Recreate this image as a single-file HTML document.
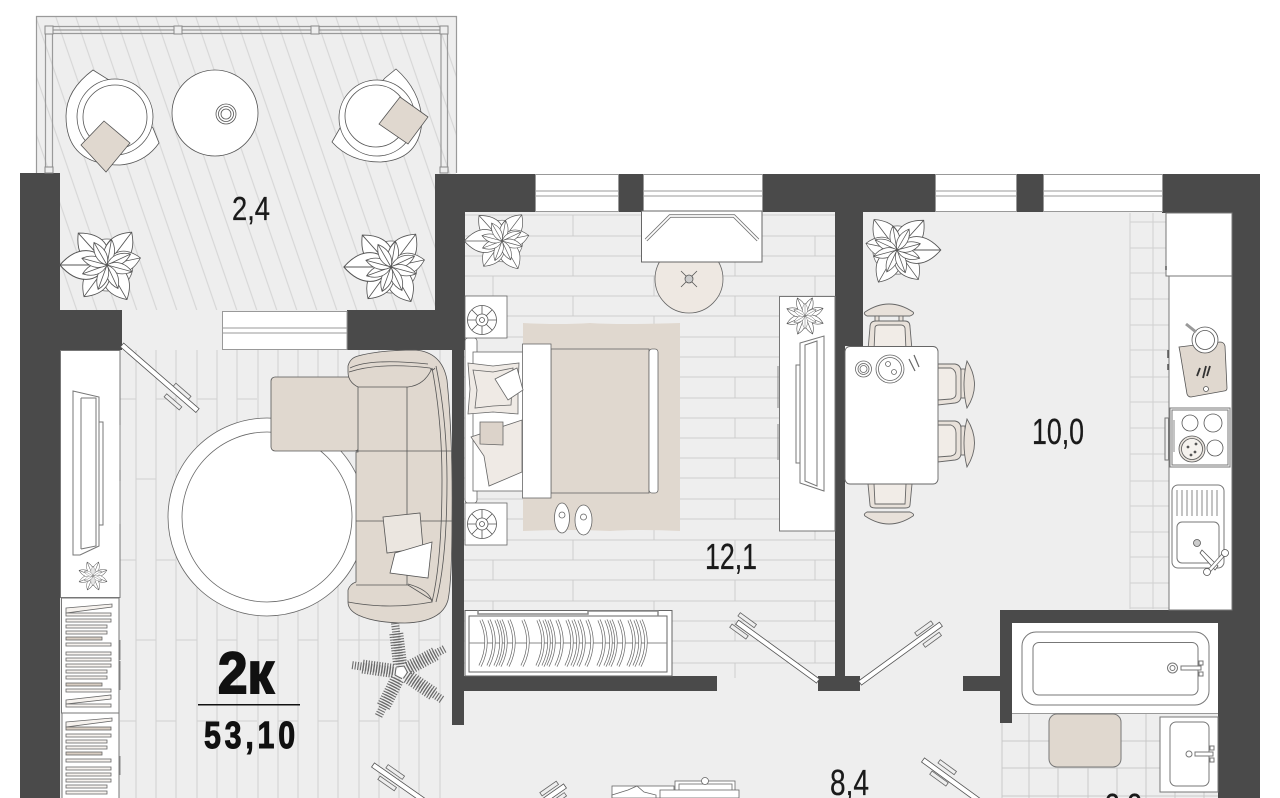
<!DOCTYPE html>
<html lang="ru"><head><meta charset="utf-8"><title>Планировка 2к</title>
<style>html,body{margin:0;padding:0;background:#fff;width:1280px;height:798px;overflow:hidden}svg{display:block;overflow:hidden}text{font-family:"Liberation Sans",sans-serif;fill:#1a1a1a}</style></head>
<body>
<svg xmlns="http://www.w3.org/2000/svg" width="1280" height="798" viewBox="0 0 1280 798">
<defs>
<pattern id="hatch" width="20" height="100" patternUnits="userSpaceOnUse" patternTransform="translate(40 0) skewX(19)"><line x1="10" y1="0" x2="10" y2="100" stroke="#d6d6d6" stroke-width="1.200"/></pattern>
<path id="leaf" d="M0 0C-15-8-16-24 0-38C16-24 15-8 0 0ZM0 0V-38" fill="#fff" stroke="#555" stroke-width=".8"/>
<path id="leaf2" d="M0 0C-7-7-7-17 0-26C7-17 7-7 0 0ZM0 0V-26" fill="#fff" stroke="#555" stroke-width=".8"/>
<g id="plant">
<circle r="26" fill="#fff" stroke="#666" stroke-width=".8"/>
<use href="#leaf" transform="rotate(-42) scale(1.13)"/><use href="#leaf" transform="rotate(37) scale(1.08)"/><use href="#leaf" transform="rotate(78) scale(.9)"/><use href="#leaf" transform="rotate(150) scale(1.05)"/><use href="#leaf" transform="rotate(216) scale(1.03)"/><use href="#leaf" transform="rotate(270) scale(1.24)"/>
<use href="#leaf2" transform="rotate(10)"/><use href="#leaf2" transform="rotate(65)"/><use href="#leaf2" transform="rotate(105)"/><use href="#leaf2" transform="rotate(155)"/><use href="#leaf2" transform="rotate(200)"/><use href="#leaf2" transform="rotate(250)"/><use href="#leaf2" transform="rotate(285)"/><use href="#leaf2" transform="rotate(330)"/>
</g>
<g id="mini" fill="#fff" stroke="#555" stroke-width=".8"><use href="#leaf2" transform="rotate(22) scale(.58)"/><use href="#leaf2" transform="rotate(67) scale(.58)"/><use href="#leaf2" transform="rotate(112) scale(.58)"/><use href="#leaf2" transform="rotate(157) scale(.58)"/><use href="#leaf2" transform="rotate(202) scale(.58)"/><use href="#leaf2" transform="rotate(247) scale(.58)"/><use href="#leaf2" transform="rotate(292) scale(.58)"/><use href="#leaf2" transform="rotate(337) scale(.58)"/><use href="#leaf2" transform="scale(.38)"/><use href="#leaf2" transform="rotate(60) scale(.38)"/><use href="#leaf2" transform="rotate(120) scale(.38)"/><use href="#leaf2" transform="rotate(180) scale(.38)"/><use href="#leaf2" transform="rotate(240) scale(.38)"/><use href="#leaf2" transform="rotate(300) scale(.38)"/></g>
<g id="door"><rect x="0" y="-2.500" width="100" height="5" fill="#fff" stroke="#555" stroke-width=".8"/></g>
<g id="handles" fill="#eee" stroke="#666" stroke-width=".8"><rect x="0" y="-9" width="20" height="4"/><rect x="0" y="5" width="20" height="4"/></g>
<g id="fan" fill="none" stroke="#555" stroke-width=".8"><circle r="14.500" fill="#fff"/><circle r="6"/><circle r="2.500"/><path d="M0-14.500V-6M0 6V14.500M-14.500 0H-6M6 0H14.500M-10-10L-4-4M4 4L10 10M10-10L4-4M-4 4L-10 10"/></g>
<g id="frond" fill="none" stroke="#6a6a6a" stroke-dasharray="1.100 1.600"><path d="M0-5V-50" stroke-width="8"/><path d="M0-8V-40" stroke-width="14"/></g>
<path id="hang" d="M481 620Q491.500 643 480 666M489 620Q499.500 643 488 666M496 620Q506.500 643 495 666M501 620Q511.500 643 500 666M509 620Q519.500 643 508 666M523 620Q533.500 643 522 666M538 620Q548.500 643 537 666M544 620Q554.500 643 543 666M549 620Q559.500 643 548 666M557 620Q567.500 643 556 666M567 620Q577.500 643 566 666M573 620Q583.500 643 572 666M579 620Q589.500 643 578 666M587 620Q597.500 643 586 666M599 620Q609.500 643 598 666M606 620Q616.500 643 605 666M611 620Q621.500 643 610 666M619 620Q629.500 643 618 666M629 620Q639.500 643 628 666M635 620Q645.500 643 634 666M641 620Q651.500 643 640 666" fill="none"/>
</defs>

<rect width="1280" height="798" fill="#fff"/>
<!-- floors -->
<rect x="37" y="17" width="419" height="293" fill="#eeeeee"/>
<rect x="37" y="17" width="419" height="293" fill="url(#hatch)"/>
<rect x="60" y="310" width="1172" height="488" fill="#eeeeee"/>
<rect x="464" y="212" width="371" height="100" fill="#eeeeee"/>
<rect x="863" y="212" width="369" height="400" fill="#eeeeee"/>

<!-- living planks -->
<path fill="none" stroke="#d0d0d0" stroke-width="1" d="M136 350V798M156 350V798M176 350V798M197 350V798M217 350V798M237 350V798M258 350V798M278 350V798M298 350V798M318 350V798M338 350V798M359 350V798M379 350V798M399 350V798M419 350V798M440 350V798
M120 399H136M156 399H176M197 399H217M237 399H257M120 560H136M156 560H176M197 560H217M237 560H257M278 560H298M136 479H156M176 479H197M217 479H237M136 640H156M176 640H197M217 640H237M258 640H278M298 640H318M338 640H359M120 721H136M156 721H176M197 721H217M237 721H257M278 721H298M318 721H338M359 721H379M399 721H419M338 399H359M359 640H379M379 640H399M419 640H440"/>
<!-- bedroom planks -->
<path fill="none" stroke="#cdcdcd" stroke-width="1" d="M464 215H835M464 236H835M464 256H835M464 276H835M464 296H835M464 316H835M464 337H835M464 357H835M464 377H835M464 398H835M464 418H835M464 438H835M464 458H835M464 478H835M464 499H835M464 519H835M464 540H835M464 560H835M464 580H835M464 601H835M464 621H835M464 641H835M464 663H835M464 678H717
M573 215V236M735 215V236M493 236V256M654 236V256M815 236V256M573 256V276M735 256V276M493 276V296M654 276V296M815 276V296M573 296V316M735 296V316M493 316V337M654 316V337M815 316V337M735 337V357M654 357V377M815 357V377M735 377V398M654 398V418M815 398V418M735 418V438M654 438V458M815 438V458M735 458V478M654 478V499M815 478V499M735 499V519M654 519V540M815 519V540M573 540V560M735 540V560M493 560V580M654 560V580M815 560V580M573 580V601M735 580V601M493 601V621M654 601V621M815 601V621M735 621V641M654 641V663M815 641V663M735 663V678"/>
<!-- kitchen tiles -->
<path fill="none" stroke="#d0d0d0" stroke-width="1" d="M1130 213V609M1153 213V609M1130 222H1169M1130 248H1169M1130 273H1169M1130 299H1169M1130 325H1169M1130 350H1169M1130 377H1169M1130 402H1169M1130 428H1169M1130 454H1169M1130 481H1169M1130 506H1169M1130 532H1169M1130 557H1169M1130 583H1169M1130 608H1169"/>
<!-- bath tiles -->
<path fill="none" stroke="#c9c9c9" stroke-width="1" d="M1002 723V798M1029 713V798M1058 768V798M1088 768V798M1117 768V798M1146 713V798M1175 792V798M1204 792V798M1002 741H1160M1002 768H1160M1002 796H1218"/>

<!-- walls -->
<g fill="#4a4a4a">
<rect x="20" y="173" width="40" height="625"/>
<rect x="20" y="310" width="102" height="40"/>
<rect x="347" y="310" width="118" height="40"/>
<rect x="435" y="174" width="30" height="176"/>
<rect x="435" y="174" width="825" height="38"/>
<rect x="1162" y="174" width="98" height="39"/>
<rect x="1232" y="174" width="28" height="624"/>
<rect x="835" y="174" width="28" height="172"/>
<rect x="835" y="340" width="10" height="350"/>
<rect x="452" y="350" width="12" height="375"/>
<rect x="452" y="676" width="265" height="15"/>
<rect x="818" y="676" width="42" height="15"/>
<rect x="963" y="676" width="40" height="15"/>
<rect x="1000" y="610" width="12" height="113"/>
<rect x="1000" y="610" width="232" height="13"/>
<rect x="1218" y="610" width="42" height="188"/>
</g>
<!-- windows -->
<g fill="#fff" stroke="#999" stroke-width="1">
<rect x="535.500" y="174.500" width="83" height="37"/><path d="M535 191H618M535 196H618"/>
<rect x="643.500" y="174.500" width="119" height="37"/><path d="M643 191H762M643 196H762"/>
<rect x="935.500" y="174.500" width="81" height="37"/><path d="M935 191H1016M935 196H1016"/>
<rect x="1043.500" y="174.500" width="119" height="37"/><path d="M1043 191H1162M1043 196H1162"/>
<rect x="222.500" y="311.500" width="124.500" height="38"/><path d="M222 328H347M222 333H347"/>
</g>
<rect x="122" y="311" width="100" height="39" fill="#eeeeee"/>

<!-- balcony railing -->
<g fill="none" stroke="#9a9a9a" stroke-width="1.200">
<path d="M36.500 173V16.500H456.500V173"/>
<path d="M45 26.500H448M45 33.500H448M45 30H448"/>
<path d="M45.500 26V173M52.500 30V173M441 30V173M447.500 26V173"/>
</g>
<g fill="#eee" stroke="#888" stroke-width="1"><rect x="45" y="26" width="8" height="8"/><rect x="174" y="26" width="8" height="8"/><rect x="311" y="26" width="8" height="8"/><rect x="440" y="26" width="8" height="8"/><rect x="45" y="167" width="8" height="6"/><rect x="440" y="167" width="8" height="6"/></g>

<!-- balcony furniture -->
<g stroke="#555" stroke-width=".8" fill="#fff">
<path d="M93 70L109 80L153 128L159 143Q145 163 120 165Q66 165 66 116Q66 90 93 70Z"/>
<circle cx="115" cy="117" r="38"/><circle cx="115" cy="117" r="32"/>
<path d="M104 121L130 143L106 172L81 145Z" fill="#e0d8cf"/>
<circle cx="215" cy="113" r="43"/><circle cx="226" cy="114" r="10"/><circle cx="226" cy="114" r="7.500"/><circle cx="226" cy="114" r="5"/>
<path d="M396 69Q420 90 422 120Q420 160 380 162Q350 162 332 142L340 128L385 78Z"/>
<circle cx="377" cy="118" r="38"/><circle cx="376" cy="116" r="31"/>
<path d="M400 97L428 117L408 144L379 124Z" fill="#e0d8cf"/>
</g>
<use href="#plant" transform="translate(107 265)"/>
<use href="#plant" transform="translate(391 267)"/>
<use href="#plant" transform="translate(502 241) scale(.8)"/>
<use href="#plant" transform="translate(897 250) scale(-.93 .93)"/>

<!-- living console -->
<g stroke="#777" stroke-width="1" fill="#fff">
<rect x="60.500" y="350.500" width="59.500" height="247"/>
<rect x="61.500" y="598" width="57.500" height="115"/>
<rect x="62" y="713" width="57" height="90"/>
<path d="M73 391L99 397V546L80 555H73ZM81 398V549M81 398H96V546L81 549" fill="#fff"/>
<rect x="99" y="422" width="4" height="103"/>
</g>
<path d="M120 425V470M120 481V524M120 640V660M120 661V690M120 756V775" stroke="#888" stroke-width="1"/>
<use href="#mini" transform="translate(93 576)"/>
<g fill="#f6f2ee" stroke="#666" stroke-width=".8">
<path d="M66 608L112 604V607L66 613Z"/>
<rect x="66" y="613" width="45" height="3"/><rect x="66" y="619" width="45" height="3"/><rect x="66" y="625" width="41" height="3"/><rect x="66" y="631" width="41" height="3"/><rect x="66" y="637" width="36" height="3" fill="#d8cdc2"/><rect x="66" y="643" width="45" height="3"/><rect x="66" y="652" width="45" height="3"/><rect x="66" y="658" width="45" height="3"/><rect x="66" y="664" width="45" height="3"/><rect x="66" y="670" width="41" height="3"/><rect x="66" y="676" width="41" height="3"/><rect x="66" y="683" width="36" height="3" fill="#d8cdc2"/><rect x="66" y="689" width="45" height="3"/>
<path d="M66 700L111 695V699L66 704Z"/><rect x="66" y="704" width="45" height="3"/>
<path d="M66 722L112 718V721L66 727Z"/>
<rect x="66" y="727" width="45" height="3" fill="#d8cdc2"/><rect x="66" y="734" width="45" height="3"/><rect x="66" y="740" width="41" height="3"/><rect x="66" y="746" width="41" height="3"/><rect x="66" y="752" width="36" height="3" fill="#d8cdc2"/><rect x="66" y="759" width="45" height="3"/><rect x="66" y="767" width="45" height="3"/><rect x="66" y="773" width="45" height="3"/><rect x="66" y="779" width="45" height="3"/><rect x="66" y="785" width="41" height="3"/><rect x="66" y="791" width="41" height="3"/>
</g>

<!-- doors -->
<use href="#door" transform="translate(122 345) rotate(41)"/>
<use href="#handles" transform="translate(170 390) rotate(41)"/>
<use href="#door" transform="translate(373 765) rotate(35)"/>
<use href="#handles" transform="translate(383 772) rotate(35)"/>
<use href="#door" transform="translate(818 681) rotate(216)"/>
<use href="#handles" transform="translate(735 620) rotate(36)"/>
<use href="#door" transform="translate(860 683) rotate(-36)"/>
<use href="#handles" transform="translate(920 640) rotate(-36)"/>
<use href="#door" transform="translate(923 760) rotate(36)"/>
<use href="#handles" transform="translate(935 767) rotate(36)"/>
<use href="#door" transform="translate(565 786) rotate(145)"/>
<use href="#handles" transform="translate(545 800) rotate(-35)"/>

<!-- rug & sofa -->
<circle cx="267" cy="517" r="99" fill="#fff" stroke="#666" stroke-width=".8"/>
<circle cx="267" cy="517" r="85" fill="#fff" stroke="#666" stroke-width=".8"/>
<g stroke="#555" stroke-width=".8">
<rect x="271" y="377" width="88" height="74" rx="4" fill="#e0d8cf"/>
<path d="M358 356Q380 350 415 350Q442 352 447 380Q453 440 452 520Q452 580 448 600Q442 622 405 623Q375 623 358 615Q348 610 348 602V590Q350 584 356 582V452H358V387Q348 382 348 372V366Q350 358 358 356Z" fill="#e0d8cf"/>
<path d="M358 387H408M356 451H452M356 521H452M407 387V585M408 387Q425 385 432 368M356 585H408L432 600M348 602Q390 610 432 602Q430 590 408 584M349 372Q380 362 430 368Q432 372 435 368" fill="none"/>
<path d="M436 366Q447 420 447 480Q447 560 436 602" fill="none"/>
<path d="M432 368Q442 420 442 480Q442 560 432 602" fill="none"/>
<path d="M350 368Q370 358 428 364" fill="none"/>
<path d="M383 517L420 513L423 548L387 553Z" fill="#ebe6e0"/>
<path d="M395 553L432 542L428 578L390 573Z" fill="#fff"/>
</g>
<!-- palm -->
<use href="#frond" transform="translate(401 672) rotate(-7)"/>
<use href="#frond" transform="translate(401 672) rotate(62)"/>
<use href="#frond" transform="translate(401 672) rotate(124)"/>
<use href="#frond" transform="translate(401 672) rotate(207)"/>
<use href="#frond" transform="translate(401 672) rotate(278)"/>
<circle cx="401" cy="672" r="5" fill="#fff"/>

<!-- desk & stool -->
<circle cx="689" cy="279" r="34" fill="#eee8e2" stroke="#666" stroke-width=".8"/>
<path d="M681 271L697 287M697 271L681 287" stroke="#555" stroke-width=".8"/><circle cx="689" cy="279" r="4" fill="#ccc" stroke="#555" stroke-width=".8"/>
<rect x="641.500" y="211" width="120.500" height="51" fill="#fff" stroke="#666" stroke-width="1"/>
<path d="M646 240L670 216H734L758 240" fill="none" stroke="#777" stroke-width="3.500"/>
<path d="M646 240L670 216H734L758 240" fill="none" stroke="#fff" stroke-width="1.800"/>

<!-- dresser -->
<g stroke="#777" stroke-width="1" fill="#fff">
<rect x="779.500" y="296.500" width="55.500" height="234.500"/>
<path d="M800 343L824 336V491L800 483ZM805 345L817 341V486L805 481Z"/>
<rect x="796" y="365" width="4" height="98"/>
</g>
<path d="M778 366V408M778 424V460" stroke="#888"/>
<use href="#mini" transform="translate(805 316) scale(1.300)"/>

<!-- bed -->
<path d="M523 323Q560 325 590 323Q620 325 680 323V531Q640 529 610 531Q570 529 523 531Z" fill="#e0d8cf"/>
<g stroke="#666" stroke-width=".8">
<rect x="465" y="338" width="12" height="165" rx="3" fill="#fff"/>
<rect x="473" y="352" width="50" height="139" fill="#fff"/>
<rect x="551" y="349" width="98" height="144" fill="#e0d8cf"/>
<rect x="649" y="349" width="9" height="144" rx="3" fill="#fff"/>
<rect x="522.500" y="344" width="28.500" height="154" fill="#fff"/>
<path d="M468 363L493 366L519 363L518 389L518 414L493 412L468 414L470 389Z" fill="#efeae5"/>
<path d="M473 370L493 372L513 368L511 405L493 406L475 408L477 390Z" fill="#efeae5"/>
<path d="M495 379L517 368L523 390L508 400Z" fill="#fff"/>
<path d="M471 437L522 420V472L489 486L484 456Z" fill="#efeae5"/>
<path d="M480 422L503 422L503 445L480 444Z" fill="#dcd3ca"/>
<rect x="465" y="296" width="42" height="42" fill="#fff"/>
<rect x="465" y="503" width="42" height="42" fill="#fff"/>
<ellipse cx="562" cy="518" rx="7.500" ry="15" fill="#fff"/>
<ellipse cx="583.500" cy="520" rx="8.500" ry="15" fill="#fff"/>
<circle cx="562" cy="515" r="3" fill="#fff"/><circle cx="583.500" cy="517" r="3" fill="#fff"/>
</g>
<use href="#fan" transform="translate(482 320)"/>
<use href="#fan" transform="translate(482 524)"/>

<!-- wardrobe -->
<g stroke="#666" stroke-width="1" fill="#fff">
<rect x="465" y="610.500" width="207" height="65.500"/>
<rect x="469" y="616" width="198" height="56"/>
<path d="M478 610V614H588V611H658V616" fill="none" stroke="#888" stroke-width="1.500"/>
<path d="M469 643H667" stroke="#888" fill="none"/>
</g>
<use href="#hang" stroke="#666" stroke-width="3.200"/>
<use href="#hang" stroke="#fff" stroke-width="1.800"/>

<!-- dining -->
<g stroke="#666" stroke-width=".9" fill="#e8e1da">
<path d="M865 312Q889 296 913 312Q915 314 910 316H867Q863 314 865 312Z"/>
<rect x="875" y="316" width="4" height="5"/><rect x="899" y="316" width="4" height="5"/>
<path d="M868 350L870 327Q870 321 876 321H905Q910 321 910 327L912 350Z"/>
<path d="M874 350L875 328Q875 325 879 325H901Q904 325 905 328L906 350" fill="#f1ece7"/>
<path d="M865 516Q889 532 913 516Q915 514 910 512H867Q863 514 865 516Z"/>
<path d="M868 484L870 505Q870 508 876 508H905Q910 508 910 505L912 484Z"/>
<path d="M874 484L875 504H905L906 484" fill="#f1ece7"/>
<path d="M938 364H955Q961 365 961 372V396Q961 402 955 403L938 405Z"/>
<path d="M938 368H951Q956 370 956 376V394Q956 398 951 399L938 400Z" fill="#f1ece7"/>
<rect x="961" y="369" width="4" height="29"/>
<path d="M967 361Q982 385 967 408Q961 385 967 361Z" fill="#e8e1da"/>
<path d="M938 421H955Q961 422 961 429V453Q961 459 955 460L938 462Z"/>
<path d="M938 425H951Q956 427 956 433V451Q956 455 951 456L938 457Z" fill="#f1ece7"/>
<rect x="961" y="426" width="4" height="29"/>
<path d="M967 419Q982 443 967 467Q961 443 967 419Z" fill="#e8e1da"/>
</g>
<rect x="845" y="346.500" width="93" height="137.500" rx="5" fill="#fff" stroke="#666" stroke-width=".9"/>
<g fill="none" stroke="#666" stroke-width=".8">
<circle cx="863.500" cy="369" r="8"/><circle cx="863.500" cy="369" r="5.500"/><circle cx="863.500" cy="369" r="3.500"/>
<circle cx="890" cy="369" r="14"/><circle cx="890" cy="369" r="11.500"/><circle cx="888" cy="364" r="2.500"/><circle cx="894" cy="372" r="2.500"/>
<path d="M909 359L915 371M914 355L919 367" stroke-width="1.200"/>
</g>

<!-- kitchen counter -->
<g stroke="#777" stroke-width="1" fill="#fff">
<rect x="1169" y="213" width="63" height="397"/>
<rect x="1166" y="213" width="66" height="63"/>
<rect x="1170" y="408" width="60" height="59" fill="#fff"/>
<rect x="1172" y="410" width="56" height="55" fill="#fff"/>
<rect x="1165" y="418" width="3.500" height="42" fill="#eee"/>
<rect x="1172" y="485" width="52" height="83" rx="6"/>
<rect x="1177" y="522" width="42" height="41" rx="5"/>
</g>
<path d="M1166 266V270M1168 350V358M1168 364V370" stroke="#555" stroke-width="1.500"/>
<path d="M1174 420V452M1177 490V516M1182 490V516M1187 490V516M1192 490V516M1197 490V516M1202 490V516M1207 490V516M1212 490V516M1217 490V516" stroke="#888" fill="none" stroke-width="1"/>
<g stroke="#555" stroke-width=".8">
<path d="M1179 347L1220 342Q1224 342 1225 346L1227 388Q1227 391 1224 391L1191 397Q1188 397 1187 394L1180 352Z" fill="#e0d8cf"/>
<circle cx="1205" cy="340" r="13" fill="#fff"/><circle cx="1205" cy="340" r="9.500" fill="#fff"/>
<path d="M1186 324L1196 332" stroke-width="3" stroke="#999"/>
<path d="M1197 376L1200 368M1203 378L1206 366M1207 376L1210 366" stroke="#333" stroke-width="1.800"/>
<circle cx="1206" cy="389" r="2.500" fill="#fff"/>
<circle cx="1190" cy="423" r="8" fill="#fff"/><circle cx="1213" cy="423" r="9" fill="#fff"/><circle cx="1215" cy="448" r="8" fill="#fff"/>
<circle cx="1192" cy="449" r="13" fill="#e8e3dd"/><circle cx="1192" cy="449" r="10.500" fill="#f5f2ee"/>
<circle cx="1188" cy="447" r="1" fill="#555"/><circle cx="1195" cy="452" r="1" fill="#555"/><circle cx="1191" cy="455" r="1" fill="#555"/><circle cx="1196" cy="444" r="1" fill="#555"/>
<circle cx="1197" cy="543" r="3.500" fill="#ccc"/>
<path d="M1202 550L1218 566L1215 570L1200 553Z" fill="#fff"/>
<path d="M1208 572L1225 553" stroke="#666" stroke-width="4"/><path d="M1208 572L1225 553" stroke="#fff" stroke-width="2.500"/>
<circle cx="1207" cy="572" r="3.500" fill="#fff"/><circle cx="1225" cy="553" r="3.500" fill="#fff"/>
</g>

<!-- bathroom -->
<rect x="1012" y="623" width="206" height="90" fill="#fff"/>
<path d="M1012 713.500H1218" stroke="#999" fill="none"/>
<g stroke="#777" stroke-width="1" fill="#fff">
<rect x="1022" y="632" width="187" height="73" rx="14"/>
<rect x="1033" y="642.500" width="165" height="52.500" rx="6"/>
<circle cx="1172.500" cy="668" r="5"/><circle cx="1172.500" cy="668" r="2.500"/>
<rect x="1181" y="666" width="20" height="4"/><rect x="1199" y="661" width="4" height="4"/><rect x="1199" y="672" width="4" height="4"/>
<rect x="1049" y="714" width="72" height="53" rx="8" fill="#e0d8cf"/>
<rect x="1160" y="717" width="58" height="75"/>
<rect x="1170" y="722" width="39" height="64" rx="6"/>
<circle cx="1189" cy="754" r="3"/><rect x="1195" y="752" width="18" height="4"/><rect x="1210" y="746" width="4" height="4"/><rect x="1210" y="758" width="4" height="4"/>
</g>

<!-- hall furniture -->
<g stroke="#666" stroke-width=".8" fill="#fff">
<rect x="612" y="786" width="62" height="12"/>
<rect x="675" y="781" width="60" height="17"/>
<rect x="679" y="784" width="53" height="14"/>
<circle cx="705" cy="781" r="3.500"/>
<rect x="660" y="790" width="79" height="8"/>
<path d="M612 795L628 790L637 786L644 792L656 795V798H612Z"/>
</g>

<!-- labels -->
<text x="232" y="220" font-size="33" stroke="#1a1a1a" stroke-width=".3" textLength="38" lengthAdjust="spacingAndGlyphs">2,4</text>
<text x="705" y="569" font-size="36" stroke="#1a1a1a" stroke-width=".3" textLength="52" lengthAdjust="spacingAndGlyphs">12,1</text>
<text x="1032" y="444" font-size="36" stroke="#1a1a1a" stroke-width=".3" textLength="52" lengthAdjust="spacingAndGlyphs">10,0</text>
<text x="830" y="795" font-size="36" stroke="#1a1a1a" stroke-width=".3" textLength="39" lengthAdjust="spacingAndGlyphs">8,4</text>
<text x="1105" y="819" font-size="36" stroke="#1a1a1a" stroke-width=".3" textLength="37" lengthAdjust="spacingAndGlyphs">3,3</text>
<text x="218" y="693" font-size="58" font-weight="700" stroke="#111" stroke-width="2" textLength="56" lengthAdjust="spacingAndGlyphs" style="fill:#111">2к</text>
<rect x="198" y="704" width="102" height="1.500" fill="#111"/>
<text transform="translate(204 748) scale(.8 1)" font-size="38" font-weight="700" stroke="#111" stroke-width="1" letter-spacing="4.700" style="fill:#111">53,10</text>
</svg>
</body></html>
